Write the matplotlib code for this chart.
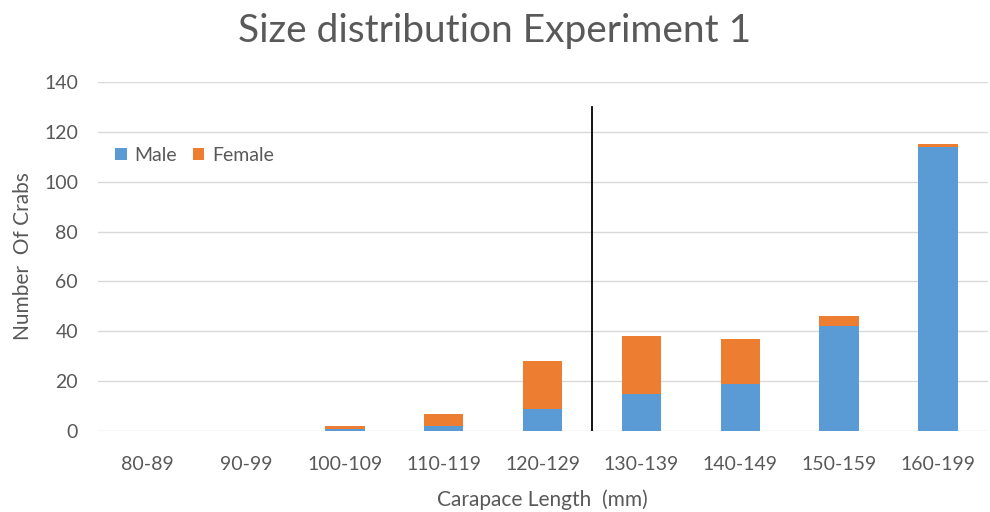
import matplotlib
matplotlib.use("Agg")
import matplotlib.pyplot as plt
import numpy as np

plt.rcParams['font.family'] = ['Lato', 'DejaVu Sans']

categories = ["80-89", "90-99", "100-109", "110-119", "120-129",
              "130-139", "140-149", "150-159", "160-199"]
male = [0, 0, 1, 2, 9, 15, 19, 42, 114]
female = [0, 0, 1, 5, 19, 23, 18, 4, 1]
divider_pos = 4.5
divider_top = 130

blue = '#5B9BD5'
orange = '#ED7D31'
grey = '#595959'

fig = plt.figure(figsize=(9.9, 5.12), dpi=100)
ax = fig.add_axes([0.0985, 0.158, 0.899, 0.682])

x = np.arange(len(categories))
ax.bar(x, male, width=0.4, color=blue, label='Male', zorder=3)
ax.bar(x, female, width=0.4, bottom=male, color=orange, label='Female', zorder=3)
ax.plot([divider_pos, divider_pos], [0, divider_top], color='black', lw=1.3, zorder=4)

ax.set_xlim(-0.5, len(categories) - 0.5)
ax.set_ylim(0, 140)
ax.set_yticks(np.arange(0, 141, 20))
ax.set_xticks(x)
ax.set_xticklabels(categories)
ax.yaxis.grid(True, color='#d9d9d9', lw=1)
ax.set_axisbelow(True)
for s in ax.spines.values():
    s.set_visible(False)
ax.tick_params(axis='both', length=0, colors=grey, labelsize=14)
ax.tick_params(axis='x', pad=18)
ax.tick_params(axis='y', pad=14)

ax.set_xlabel('Carapace Length  (mm)', color=grey, fontsize=15, labelpad=12)
ax.set_ylabel('Number  Of Crabs', color=grey, fontsize=15, labelpad=8)
fig.suptitle('Size distribution Experiment 1', color=grey, fontsize=28, y=0.975)

leg = ax.legend(loc='upper left', bbox_to_anchor=(0.0, 0.865), frameon=False,
                fontsize=14, handlelength=0.6, handleheight=0.6,
                handletextpad=0.4, columnspacing=0.8, ncol=2)
for t in leg.get_texts():
    t.set_color(grey)

fig.savefig('out.png', dpi=100)
